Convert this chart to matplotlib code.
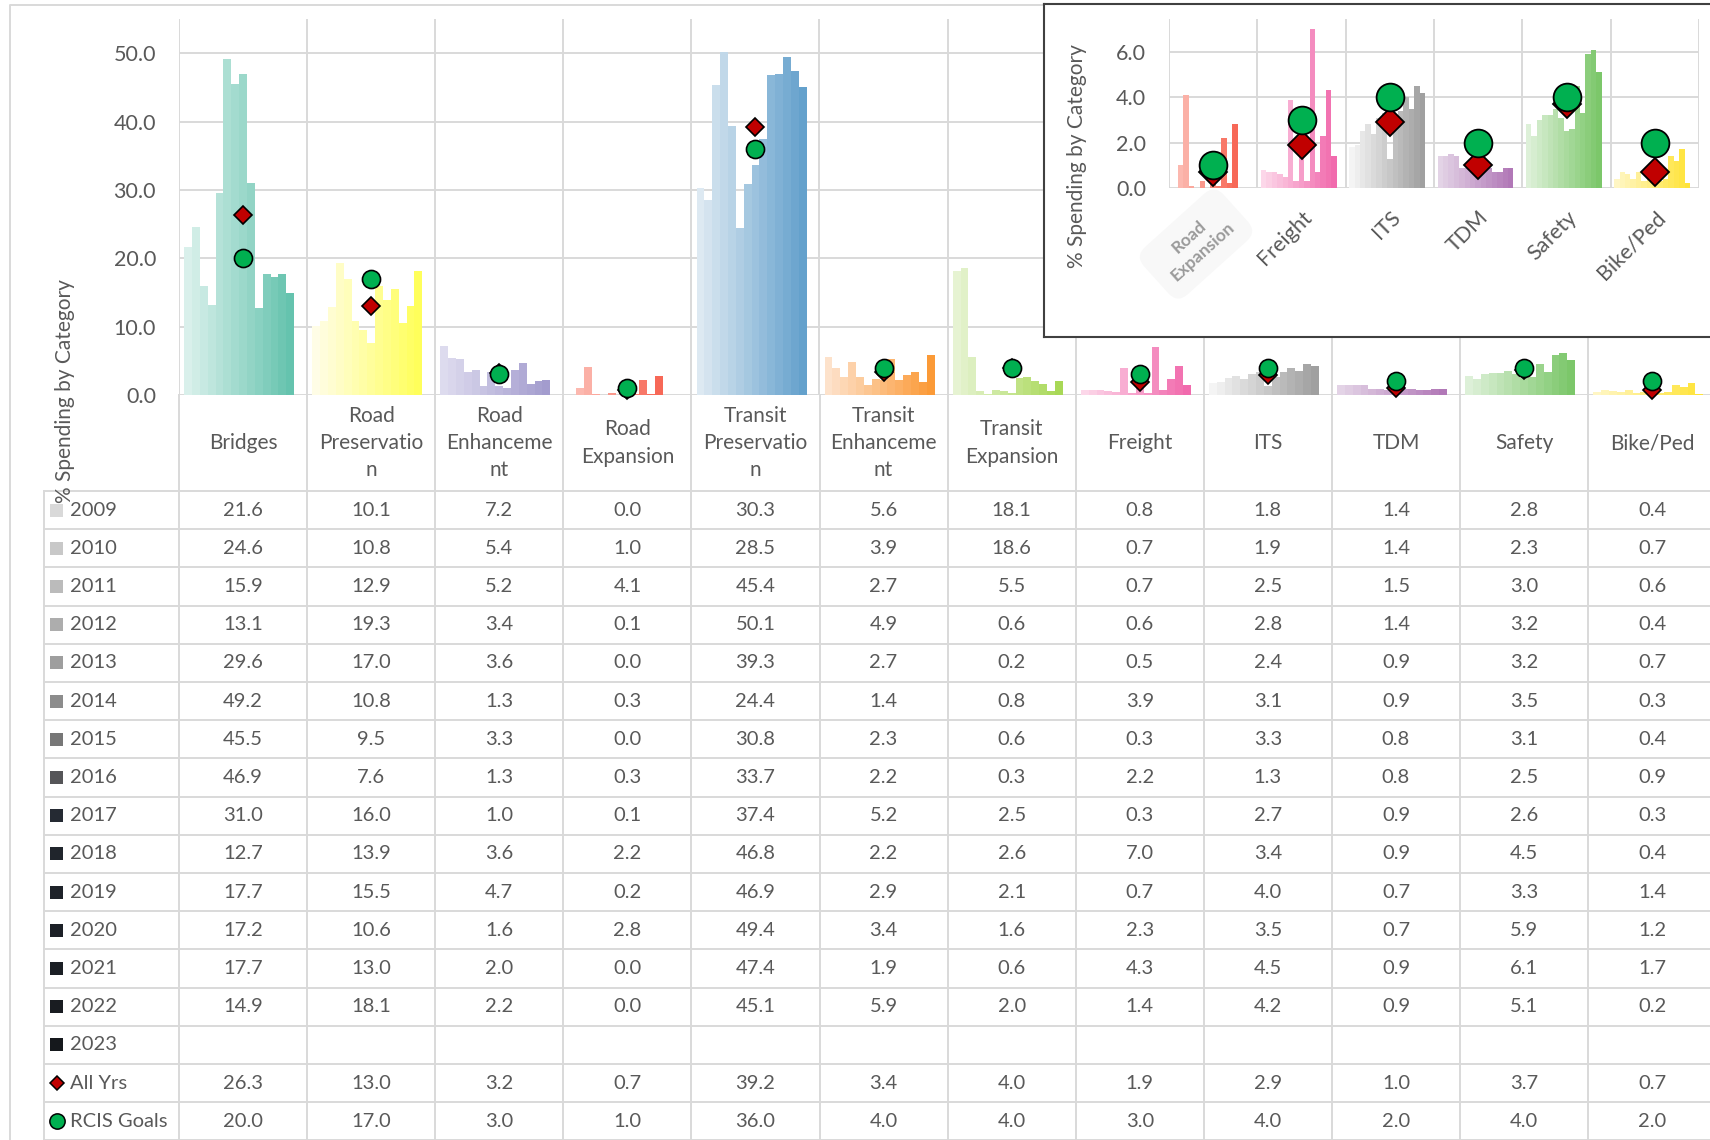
import numpy as np
import matplotlib.pyplot as plt
from matplotlib.patches import Rectangle
from matplotlib.colors import to_rgb

plt.rcParams['font.family'] = ['Lato', 'DejaVu Sans']

# Categories as they appear in the table header (wrapped the same way)
categories = ['Bridges', 'Road\nPreservatio\nn', 'Road\nEnhanceme\nnt', 'Road\nExpansion',
              'Transit\nPreservatio\nn', 'Transit\nEnhanceme\nnt', 'Transit\nExpansion',
              'Freight', 'ITS', 'TDM', 'Safety', 'Bike/Ped']
years = [2009, 2010, 2011, 2012, 2013, 2014, 2015, 2016,
         2017, 2018, 2019, 2020, 2021, 2022, 2023]

# % spending by category, one row per year (2023 has no data yet)
spending = [
    [21.6, 10.1, 7.2, 0.0, 30.3, 5.6, 18.1, 0.8, 1.8, 1.4, 2.8, 0.4],
    [24.6, 10.8, 5.4, 1.0, 28.5, 3.9, 18.6, 0.7, 1.9, 1.4, 2.3, 0.7],
    [15.9, 12.9, 5.2, 4.1, 45.4, 2.7, 5.5, 0.7, 2.5, 1.5, 3.0, 0.6],
    [13.1, 19.3, 3.4, 0.1, 50.1, 4.9, 0.6, 0.6, 2.8, 1.4, 3.2, 0.4],
    [29.6, 17.0, 3.6, 0.0, 39.3, 2.7, 0.2, 0.5, 2.4, 0.9, 3.2, 0.7],
    [49.2, 10.8, 1.3, 0.3, 24.4, 1.4, 0.8, 3.9, 3.1, 0.9, 3.5, 0.3],
    [45.5, 9.5, 3.3, 0.0, 30.8, 2.3, 0.6, 0.3, 3.3, 0.8, 3.1, 0.4],
    [46.9, 7.6, 1.3, 0.3, 33.7, 2.2, 0.3, 2.2, 1.3, 0.8, 2.5, 0.9],
    [31.0, 16.0, 1.0, 0.1, 37.4, 5.2, 2.5, 0.3, 2.7, 0.9, 2.6, 0.3],
    [12.7, 13.9, 3.6, 2.2, 46.8, 2.2, 2.6, 7.0, 3.4, 0.9, 4.5, 0.4],
    [17.7, 15.5, 4.7, 0.2, 46.9, 2.9, 2.1, 0.7, 4.0, 0.7, 3.3, 1.4],
    [17.2, 10.6, 1.6, 2.8, 49.4, 3.4, 1.6, 2.3, 3.5, 0.7, 5.9, 1.2],
    [17.7, 13.0, 2.0, 0.0, 47.4, 1.9, 0.6, 4.3, 4.5, 0.9, 6.1, 1.7],
    [14.9, 18.1, 2.2, 0.0, 45.1, 5.9, 2.0, 1.4, 4.2, 0.9, 5.1, 0.2],
]
all_yrs = [26.3, 13.0, 3.2, 0.7, 39.2, 3.4, 4.0, 1.9, 2.9, 1.0, 3.7, 0.7]
rcis_goals = [20.0, 17.0, 3.0, 1.0, 36.0, 4.0, 4.0, 3.0, 4.0, 2.0, 4.0, 2.0]

# zoomed view of the small categories
inset_idx = [3, 7, 8, 9, 10, 11]
inset_labels = ['', 'Freight', 'ITS', 'TDM', 'Safety', 'Bike/Ped']

# light -> dark ramp per category (one shade per year)
light = ['#d9f0eb', '#fffde6', '#dddbee', '#fcc0b8', '#dde9f2', '#fde2cb',
         '#e6f3d2', '#fcd7e9', '#f4f4f4', '#e3d3e6', '#ddf0d8', '#fff6c4']
dark = ['#5cbfa9', '#ffff50', '#9e97cb', '#f5503c', '#5b9bc9', '#fb942c',
        '#a3d64c', '#f062a8', '#999999', '#ad71b3', '#74c462', '#ffe22e']
# legend keys in the table
year_keys = ['#d9d9d9', '#c8c8c8', '#bbbbbb', '#adadad', '#9e9e9e', '#8c8c8c',
             '#777777', '#555558', '#252a33', '#20252c', '#1e2229', '#1c2027',
             '#1b1f25', '#191c21', '#15181c']

GRID = '#d9d9d9'
TXT = '#595959'
DIAMOND_C = '#c00000'
CIRCLE_C = '#00b050'

W, H = 1710, 1140
X0, CW = 179, 128.1          # plot left edge and category width (px)
Y_AXIS = 395                 # px position of the zero line
ROW0, RH = 491, 38.2         # first table row top and row height (px)

n_slots = len(years)
bar_w = 0.92 / n_slots


def ramp(c0, c1, n):
    a, b = np.array(to_rgb(c0)), np.array(to_rgb(c1))
    t = np.linspace(0, 1, n)[:, None]
    return a + (b - a) * t


def draw_bars(ax, cat_list):
    data = np.array(spending)
    for slot, ci in enumerate(cat_list):
        cols = ramp(light[ci], dark[ci], n_slots)
        xs = slot + 0.04 + np.arange(len(spending)) * bar_w
        ax.bar(xs, data[:, ci], width=bar_w, align='edge',
               color=cols[:len(spending)], linewidth=0, zorder=2)


def fpos(x, y):
    # pixel position (from top-left) -> figure fraction
    return x / W, 1 - y / H


fig = plt.figure(figsize=(W / 100, H / 100), dpi=100)


def px_axes(x0, y0, x1, y1, **kw):
    return fig.add_axes([x0 / W, 1 - y1 / H, (x1 - x0) / W, (y1 - y0) / H], **kw)


# ---- main chart ----
ax = px_axes(X0, 19, X0 + 12 * CW, Y_AXIS, zorder=1)
draw_bars(ax, range(12))
centers = np.arange(12) + 0.5
ax.plot(centers, all_yrs, ls='none', marker='D', ms=9, mfc=DIAMOND_C, mec='black',
        mew=1.2, zorder=4, clip_on=False)
ax.plot(centers, rcis_goals, ls='none', marker='o', ms=13, mfc=CIRCLE_C, mec='black',
        mew=1.2, zorder=5, clip_on=False)
ax.set_xlim(0, 12)
ax.set_ylim(0, 55)
ax.set_yticks(np.arange(0, 51, 10))
ax.set_yticklabels([f'{v:.1f}' for v in np.arange(0, 51, 10)])
ax.set_xticks(np.arange(0, 13))
ax.set_xticklabels([])
ax.tick_params(length=0, labelsize=15.5, labelcolor=TXT, pad=16.5)
ax.grid(True, color=GRID, lw=1.4, zorder=0)
ax.set_axisbelow(True)
for s in ax.spines.values():
    s.set_visible(False)

# ---- table and frame drawn in pixel space ----
ov = fig.add_axes([0, 0, 1, 1], zorder=2)
ov.set_xlim(0, W)
ov.set_ylim(H, 0)
ov.axis('off')
ov.patch.set_alpha(0)

# outer frame
ov.plot([10, 10, W], [H, 5, 5], color=GRID, lw=1.4)
# header column lines and table grid
n_rows = len(years) + 2
for k in range(13):
    ov.plot([X0 + k * CW] * 2, [Y_AXIS, H], color=GRID, lw=1.4)
ov.plot([43.6, 43.6], [ROW0, H], color=GRID, lw=1.4)
for r in range(n_rows + 1):
    y = ROW0 + r * RH
    ov.plot([43.6, W], [y, y], color=GRID, lw=1.4)

for i, name in enumerate(categories):
    ov.text(X0 + CW * (i + 0.5), 443, name, ha='center', va='center',
            fontsize=15, color=TXT, linespacing=1.45)

row_labels = [str(y) for y in years] + ['All Yrs', 'RCIS Goals']
for r, lab in enumerate(row_labels):
    yc = ROW0 + RH * (r + 0.5)
    if r < len(years):
        ov.add_patch(Rectangle((50, yc - 6.5), 13, 13, color=year_keys[r], lw=0))
        vals = spending[r] if r < len(spending) else None
    elif lab == 'All Yrs':
        ov.plot(57, yc, marker='D', ms=7.5, mfc=DIAMOND_C, mec='black', mew=1.1)
        vals = all_yrs
    else:
        ov.plot(57, yc, marker='o', ms=11, mfc=CIRCLE_C, mec='black', mew=1.1)
        vals = rcis_goals
    ov.text(70, yc, lab, ha='left', va='center', fontsize=14.5, color=TXT)
    if vals is not None:
        for i, v in enumerate(vals):
            ov.text(X0 + CW * (i + 0.5), yc, f'{v:.1f}', ha='center', va='center',
                    fontsize=14.5, color=TXT)

ov.text(65, 391, '% Spending by Category', rotation=90, ha='center', va='center',
        fontsize=15, color=TXT)

# ---- inset for the small categories ----
frame = px_axes(1044, 4, 1712, 337, zorder=3)
frame.set_xticks([])
frame.set_yticks([])
for s in frame.spines.values():
    s.set_color('#404040')
    s.set_linewidth(1.5)

iax = px_axes(1169, 19, 1699, 188, zorder=4)
iax.patch.set_alpha(0)
draw_bars(iax, inset_idx)

ic = np.arange(len(inset_idx)) + 0.5
iax.plot(ic, [all_yrs[i] for i in inset_idx], ls='none', marker='D', ms=14.5,
         mfc=DIAMOND_C, mec='black', mew=1.3, zorder=4, clip_on=False)
iax.plot(ic, [rcis_goals[i] for i in inset_idx], ls='none', marker='o', ms=20,
         mfc=CIRCLE_C, mec='black', mew=1.3, zorder=5, clip_on=False)
iax.set_xlim(0, len(inset_idx))
iax.set_ylim(0, 7.45)
iax.set_yticks([0, 2, 4, 6])
iax.set_yticklabels([f'{v:.1f}' for v in [0, 2, 4, 6]])
iax.set_xticks(ic)
iax.set_xticklabels(inset_labels, rotation=45, ha='right', va='top',
                    rotation_mode='anchor')
iax.set_xticks(np.arange(len(inset_idx) + 1), minor=True)
iax.tick_params(which='both', length=0, labelsize=15.5, labelcolor=TXT)
iax.tick_params(axis='y', pad=16.5)
iax.tick_params(axis='x', pad=14)
iax.grid(True, which='major', axis='y', color=GRID, lw=1.4, zorder=0)
iax.grid(True, which='minor', axis='x', color=GRID, lw=1.4, zorder=0)
iax.set_axisbelow(True)
for s in iax.spines.values():
    s.set_visible(False)
iax.text(*fpos(1077, 156), '% Spending by Category', transform=fig.transFigure,
         rotation=90, ha='center', va='center', fontsize=15, color=TXT)

# faded label for the first inset category
iax.text(*fpos(1196, 244), 'Road\nExpansion', transform=fig.transFigure,
         rotation=42, ha='center', va='center', fontsize=12.5, fontweight='bold',
         color='#9a9a9a', linespacing=1.3, clip_on=False,
         bbox=dict(boxstyle='round,pad=0.8', fc='#f8f8f8', ec='none'))

fig.savefig('out.png', dpi=100)
